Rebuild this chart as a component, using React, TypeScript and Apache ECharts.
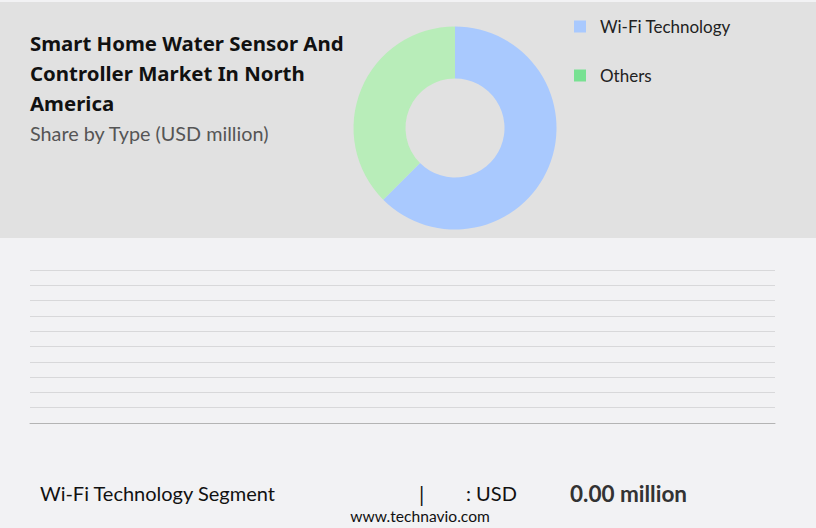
import React, { useEffect, useRef } from "react";
import * as echarts from "echarts";

const segments: string[] = ["Wi-Fi Technology", "Others"];
const shares: number[] = [62.5, 37.5];
const sliceColors: string[] = ["#a9c9fe", "#b8edb9"];
const legendColors: string[] = ["#a9c9fe", "#78e192"];
const gridLevels: string[] = ["0", "1", "2", "3", "4", "5", "6", "7", "8", "9", "10"];
const titleLines: string[] = [
  "Smart Home Water Sensor And",
  "Controller Market In North",
  "America",
];
const subtitle = "Share by Type (USD million)";
const footerSegment = "Wi-Fi Technology Segment";
const footerUnit = ": USD";
const footerValue = "0.00 million";
const footerSite = "www.technavio.com";

export default function App() {
  const ref = useRef<HTMLDivElement>(null);
  useEffect(() => {
    document.body.style.margin = "0";
    const chart = echarts.init(ref.current!, undefined, { renderer: "svg" });
    const titleFont = "'Noto Sans', 'Open Sans', sans-serif";
    const bodyFont = "'Lato', 'Noto Sans', sans-serif";
    chart.setOption({
      animation: false,
      backgroundColor: "#f2f2f4",
      graphic: [
        { type: "rect", z: -10, shape: { x: 0, y: 2, width: 816, height: 236 }, style: { fill: "#e1e1e1" } },
        ...titleLines.map((t, i) => ({
          type: "text",
          x: 30,
          y: 43 + i * 30,
          style: { text: t, font: `bold 20.4px ${titleFont}`, fill: "#111", textVerticalAlign: "middle" },
        })),
        {
          type: "text",
          x: 30,
          y: 133,
          style: { text: subtitle, font: `19.8px ${bodyFont}`, fill: "#555", textVerticalAlign: "middle" },
        },
        {
          type: "text",
          x: 40,
          y: 493,
          style: { text: footerSegment, font: `20px ${bodyFont}`, fill: "#111", textVerticalAlign: "middle" },
        },
        {
          type: "text",
          x: 419,
          y: 493,
          style: { text: "|", font: `21px ${bodyFont}`, fill: "#111", textVerticalAlign: "middle" },
        },
        {
          type: "text",
          x: 466,
          y: 493,
          style: { text: footerUnit, font: `20px ${bodyFont}`, fill: "#111", textVerticalAlign: "middle" },
        },
        {
          type: "text",
          x: 570,
          y: 493,
          style: { text: footerValue, font: `bold 22.5px ${bodyFont}`, fill: "#333", textVerticalAlign: "middle" },
        },
        {
          type: "text",
          x: 420,
          y: 516,
          style: { text: footerSite, font: `15.6px ${bodyFont}`, fill: "#111", textAlign: "center", textVerticalAlign: "middle" },
        },
      ],
      legend: {
        orient: "vertical",
        left: 569,
        top: 13,
        itemGap: 32,
        itemWidth: 12,
        itemHeight: 12,
        icon: "rect",
        selectedMode: false,
        textStyle: { fontFamily: bodyFont, fontSize: 17, color: "#222", padding: [0, 0, 0, 9] },
        data: segments.map((s, i) => ({ name: s, itemStyle: { color: legendColors[i] } })),
      },
      grid: { left: 30, right: 41, top: 270, bottom: 105 },
      xAxis: {
        type: "category",
        data: [""],
        axisLine: { show: true, lineStyle: { color: "#b4b4b4", width: 1 } },
        axisTick: { show: false },
        axisLabel: { show: false },
      },
      yAxis: {
        type: "value",
        min: 0,
        max: gridLevels.length - 1,
        interval: 1,
        axisLine: { show: false },
        axisTick: { show: false },
        axisLabel: { show: false },
        splitLine: { lineStyle: { color: "#d8d8da", width: 1 } },
      },
      series: [
        {
          type: "pie",
          center: [455, 128],
          radius: [49.5, 101.5],
          startAngle: 90,
          clockwise: true,
          label: { show: false },
          labelLine: { show: false },
          emphasis: { disabled: true },
          data: segments.map((s, i) => ({ name: s, value: shares[i], itemStyle: { color: sliceColors[i] } })),
        },
        { type: "bar", name: "empty", data: [] },
      ],
    });
    return () => chart.dispose();
  }, []);
  return <div ref={ref} style={{ width: 816, height: 528 }} />;
}
